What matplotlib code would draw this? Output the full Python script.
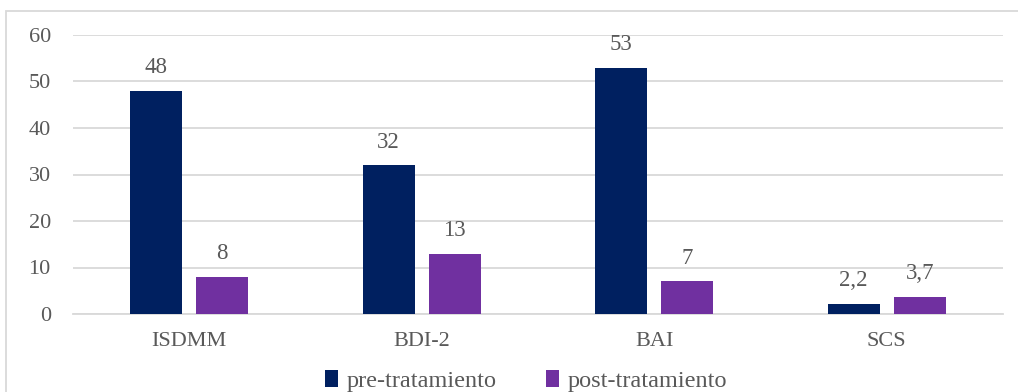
import matplotlib.pyplot as plt
import numpy as np
from matplotlib.patches import Rectangle

# datos
categorias = ['ISDMM', 'BDI-2', 'BAI', 'SCS']
pre = [48, 32, 53, 2.2]
post = [8, 13, 7, 3.7]
etiquetas_pre = ['48', '32', '53', '2,2']
etiquetas_post = ['8', '13', '7', '3,7']

plt.rcParams['font.family'] = ['Liberation Serif', 'DejaVu Serif']
gris = '#595959'

fig = plt.figure(figsize=(10.18, 3.92), dpi=100)
ax = fig.add_axes([73/1018, 1 - 314/392, 930/1018, 279/392])

# marco del grafico
fig.patches.append(Rectangle((6/1018, -0.05), 1.1, 1 - 11/392 + 0.05,
                             transform=fig.transFigure, fill=False,
                             edgecolor='#D9D9D9', lw=1.3))

x = np.arange(len(categorias))
ancho = 0.225
b1 = ax.bar(x - 0.142, pre, ancho, color='#002060', label='pre-tratamiento', zorder=3)
b2 = ax.bar(x + 0.142, post, ancho, color='#7030A0', label='post-tratamiento', zorder=3)

ax.bar_label(b1, labels=etiquetas_pre, padding=9, fontsize=16.5, color=gris)
ax.bar_label(b2, labels=etiquetas_post, padding=9, fontsize=16.5, color=gris)

ax.set_xlim(-0.5, 3.5)
ax.set_ylim(0, 60)
ax.set_yticks(range(0, 61, 10))
ax.set_xticks(x)
ax.set_xticklabels(categorias)
ax.yaxis.grid(True, color='#D9D9D9', lw=1.3, zorder=0)
for s in ['top', 'right', 'left']:
    ax.spines[s].set_visible(False)
ax.spines['bottom'].set_color('#D9D9D9')
ax.spines['bottom'].set_linewidth(1.3)
ax.tick_params(axis='both', length=0, labelsize=16, labelcolor=gris)
ax.tick_params(axis='x', pad=13)
ax.tick_params(axis='y', pad=16)

fig.legend(loc='center', bbox_to_anchor=(526/1018, 1 - 381/392), ncol=2,
           frameon=False, fontsize=17.5, labelcolor=gris,
           handlelength=0.55, handleheight=0.7, handletextpad=0.35,
           columnspacing=2.0, borderpad=0)

fig.savefig('out.png', dpi=100)
